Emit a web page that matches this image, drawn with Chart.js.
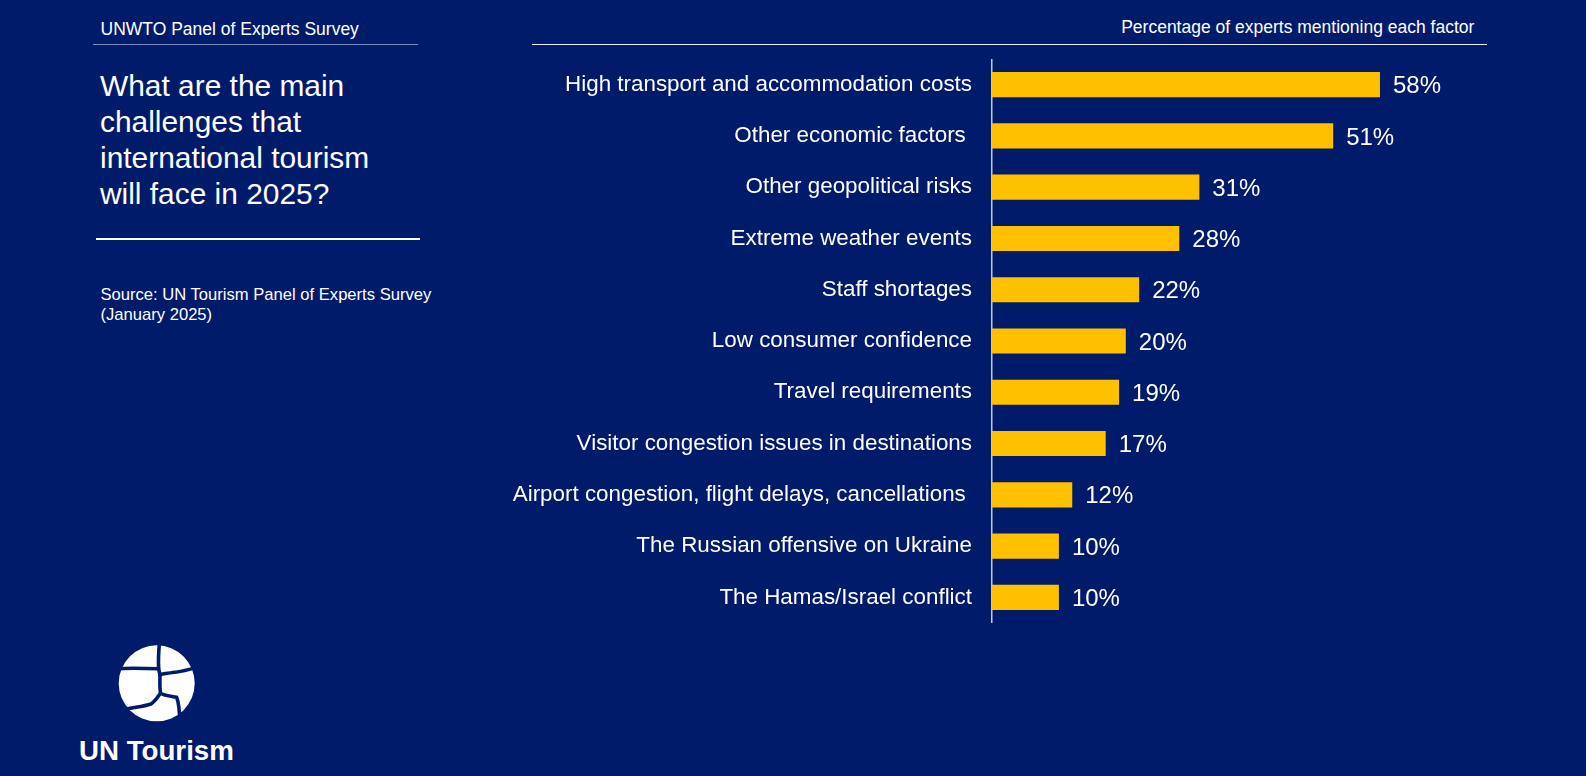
<!DOCTYPE html>
<html>
<head>
<meta charset="utf-8">
<script src="https://cdn.jsdelivr.net/npm/chart.js@4.4.0/dist/chart.umd.min.js"></script>
<style>
  html, body { margin:0; padding:0; }
  body { width:1586px; height:776px; background:#011b6b; position:relative; overflow:hidden;
         font-family:"Liberation Sans", Arial, sans-serif; color:#fff; }
  .abs { position:absolute; white-space:nowrap; }
  #hdrL { left:100.5px; top:19px; font-size:17.5px; line-height:20px; }
  #hdrR { right:111.7px; top:16.6px; font-size:17.5px; line-height:20px; text-align:right; }
  #title { left:100px; top:67.5px; font-size:29.9px; line-height:36px; }
  #src { left:100.5px; top:285px; font-size:16.6px; line-height:20px; }
  #brand { left:79px; top:736.3px; font-size:27.7px; line-height:30px; font-weight:bold; }
  .line { position:absolute; }
  #chartBox { position:absolute; left:480px; top:59px; width:1007px; height:564px; }
</style>
</head>
<body>
<div class="abs" id="hdrL">UNWTO Panel of Experts Survey</div>
<div class="line" style="left:93px; top:43.5px; width:325px; height:1.5px; background:#7d8cc0;"></div>
<div class="abs" id="hdrR">Percentage of experts mentioning each factor</div>
<div class="line" style="left:532px; top:43.5px; width:955px; height:1.5px; background:#e8ebf5;"></div>
<div class="abs" id="title">What are the main<br>challenges that<br>international tourism<br>will face in 2025?</div>
<div class="line" style="left:95.5px; top:238px; width:324.5px; height:2px; background:#ffffff;"></div>
<div class="abs" id="src">Source: UN Tourism Panel of Experts Survey<br>(January 2025)</div>

<svg class="abs" style="left:110px; top:638px;" width="95" height="95" viewBox="110 638 95 95">
  <circle cx="156.7" cy="683.3" r="38" fill="#ffffff"/>
  <g fill="none" stroke="#011b6b" stroke-width="3.6" stroke-linecap="round" stroke-linejoin="round">
    <path d="M159.5,642 C158.6,652 158.2,662 158.7,668.5 C159,671 159.6,673 160,675"/>
    <path d="M115,668.7 C128,668 145,668.3 158.5,668.7"/>
    <path d="M160,674.5 C166,673.5 172,672.5 177,672 C184,671 189,669.5 196,667.5"/>
    <path d="M160,675 C159.8,682 159.6,688 160.5,693 C163,695.5 170,696 176.7,697.3 C179,703 179.5,709 180,723"/>
    <path d="M160.3,693.5 C157,698 155,701.5 151,704 C144,706.5 136,707 126,709"/>
  </g>
</svg>
<div class="abs" id="brand">UN Tourism</div>

<div id="chartBox"><canvas id="c"></canvas></div>

<script>
const categories = [
  "High transport and accommodation costs",
  "Other economic factors ",
  "Other geopolitical risks",
  "Extreme weather events",
  "Staff shortages",
  "Low consumer confidence",
  "Travel requirements",
  "Visitor congestion issues in destinations",
  "Airport congestion, flight delays, cancellations ",
  "The Russian offensive on Ukraine",
  "The Hamas/Israel conflict"
];
const values = [58, 51, 31, 28, 22, 20, 19, 17, 12, 10, 10];
const valueSuffix = "%";

const FONT = '"Liberation Sans", Arial, sans-serif';

const valueLabels = {
  id: 'valueLabels',
  afterDatasetsDraw(chart) {
    const ctx = chart.ctx;
    const meta = chart.getDatasetMeta(0);
    ctx.save();
    ctx.fillStyle = '#ffffff';
    ctx.font = '24px ' + FONT;
    ctx.textAlign = 'left';
    ctx.textBaseline = 'alphabetic';
    meta.data.forEach((bar, i) => {
      ctx.fillText(values[i] + valueSuffix, bar.x + 13, bar.y + 8.6);
    });
    ctx.restore();
  }
};

new Chart(document.getElementById('c'), {
  type: 'bar',
  data: {
    labels: categories,
    datasets: [{
      data: values,
      backgroundColor: '#ffc000',
      borderWidth: 0,
      categoryPercentage: 1,
      barPercentage: 0.49
    }]
  },
  options: {
    indexAxis: 'y',
    responsive: true,
    maintainAspectRatio: false,
    animation: false,
    layout: { padding: 0 },
    plugins: { legend: { display: false }, tooltip: { enabled: false } },
    scales: {
      x: { display: false, min: 0, max: 74 },
      y: {
        afterFit(scale) { scale.width = 512; scale.paddingTop = 0; scale.paddingBottom = 0; },
        grid: { display: false, drawTicks: false },
        border: { display: true, color: '#c3c9e0', width: 1.5 },
        ticks: {
          color: '#ffffff',
          padding: 20,
          font: { family: FONT, size: 22.4 }
        }
      }
    }
  },
  plugins: [valueLabels]
});
</script>
</body>
</html>
